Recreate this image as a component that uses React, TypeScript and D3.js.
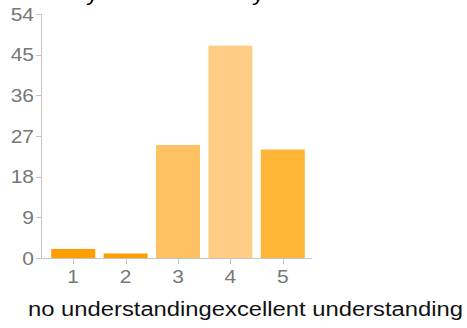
import React, { useEffect, useRef } from 'react'
import * as d3 from 'd3'

const categories = ['1', '2', '3', '4', '5']
const counts = [2, 1, 25, 47, 24]
const barColors = ['#ff9e00', '#ff9e00', '#ffc262', '#ffcd85', '#ffb538']
const yTicks = [0, 9, 18, 27, 36, 45, 54]
const xTitle = 'no understandingexcellent understanding'

export default function App() {
  const ref = useRef<SVGSVGElement>(null)

  useEffect(() => {
    if (!ref.current) return
    const svg = d3.select(ref.current)
    svg.selectAll('*').remove()

    const font = '"Liberation Sans", Arial, sans-serif'
    const axisColor = '#c4c4c4'
    const stretch = 1.2 // the source image is a bit wide

    const y = d3.scaleLinear().domain([0, 54]).range([258, 14])
    const x = d3.scaleBand().domain(categories).range([47, 309]).paddingInner(0.16).paddingOuter(0.08)

    // clipped title descenders at top
    svg.append('text').attr('transform', `translate(86,1) scale(${stretch},1)`).style('font-family', font).style('font-size', '20px').text('y')
    svg.append('text').attr('transform', `translate(252,1) scale(${stretch},1)`).style('font-family', font).style('font-size', '20px').text('y')

    // bars
    svg.append('g')
      .selectAll('rect')
      .data(counts)
      .join('rect')
      .attr('x', (_, i) => x(categories[i])!)
      .attr('width', x.bandwidth())
      .attr('y', d => y(d))
      .attr('height', d => y(0) - y(d))
      .attr('fill', (_, i) => barColors[i])

    // y axis
    svg.append('line')
      .attr('x1', 41.5).attr('x2', 41.5)
      .attr('y1', y(54)).attr('y2', y(0))
      .attr('stroke', axisColor)
    const yg = svg.append('g')
    yg.selectAll('line')
      .data(yTicks)
      .join('line')
      .attr('x1', 36).attr('x2', 41)
      .attr('y1', d => Math.round(y(d)) + 0.5)
      .attr('y2', d => Math.round(y(d)) + 0.5)
      .attr('stroke', axisColor)
    yg.selectAll('text')
      .data(yTicks)
      .join('text')
      .attr('transform', d => `translate(34,${y(d) + 6.5}) scale(${stretch},1)`)
      .attr('text-anchor', 'end')
      .style('font-family', font)
      .style('font-size', '17.5px')
      .style('fill', '#777')
      .text(d => d)

    // x axis
    svg.append('line')
      .attr('x1', 41).attr('x2', 312)
      .attr('y1', 258.5).attr('y2', 258.5)
      .attr('stroke', axisColor)
    const xg = svg.append('g')
    xg.selectAll('line')
      .data(categories)
      .join('line')
      .attr('x1', d => Math.round(x(d)! + x.bandwidth() / 2) + 0.5)
      .attr('x2', d => Math.round(x(d)! + x.bandwidth() / 2) + 0.5)
      .attr('y1', 258).attr('y2', 264)
      .attr('stroke', axisColor)
    xg.selectAll('text')
      .data(categories)
      .join('text')
      .attr('transform', d => `translate(${x(d)! + x.bandwidth() / 2},283) scale(${stretch},1)`)
      .attr('text-anchor', 'middle')
      .style('font-family', font)
      .style('font-size', '17.5px')
      .style('fill', '#777')
      .text(d => d)

    svg.append('text')
      .attr('x', 28)
      .attr('y', 316)
      .attr('textLength', 435)
      .attr('lengthAdjust', 'spacingAndGlyphs')
      .style('font-family', font)
      .style('font-size', '20px')
      .style('fill', '#111')
      .text(xTitle)
  }, [])

  return (
    <svg ref={ref} width={467} height={328}
      style={{ position: 'absolute', left: 0, top: 0, background: '#fff' }} />
  )
}
